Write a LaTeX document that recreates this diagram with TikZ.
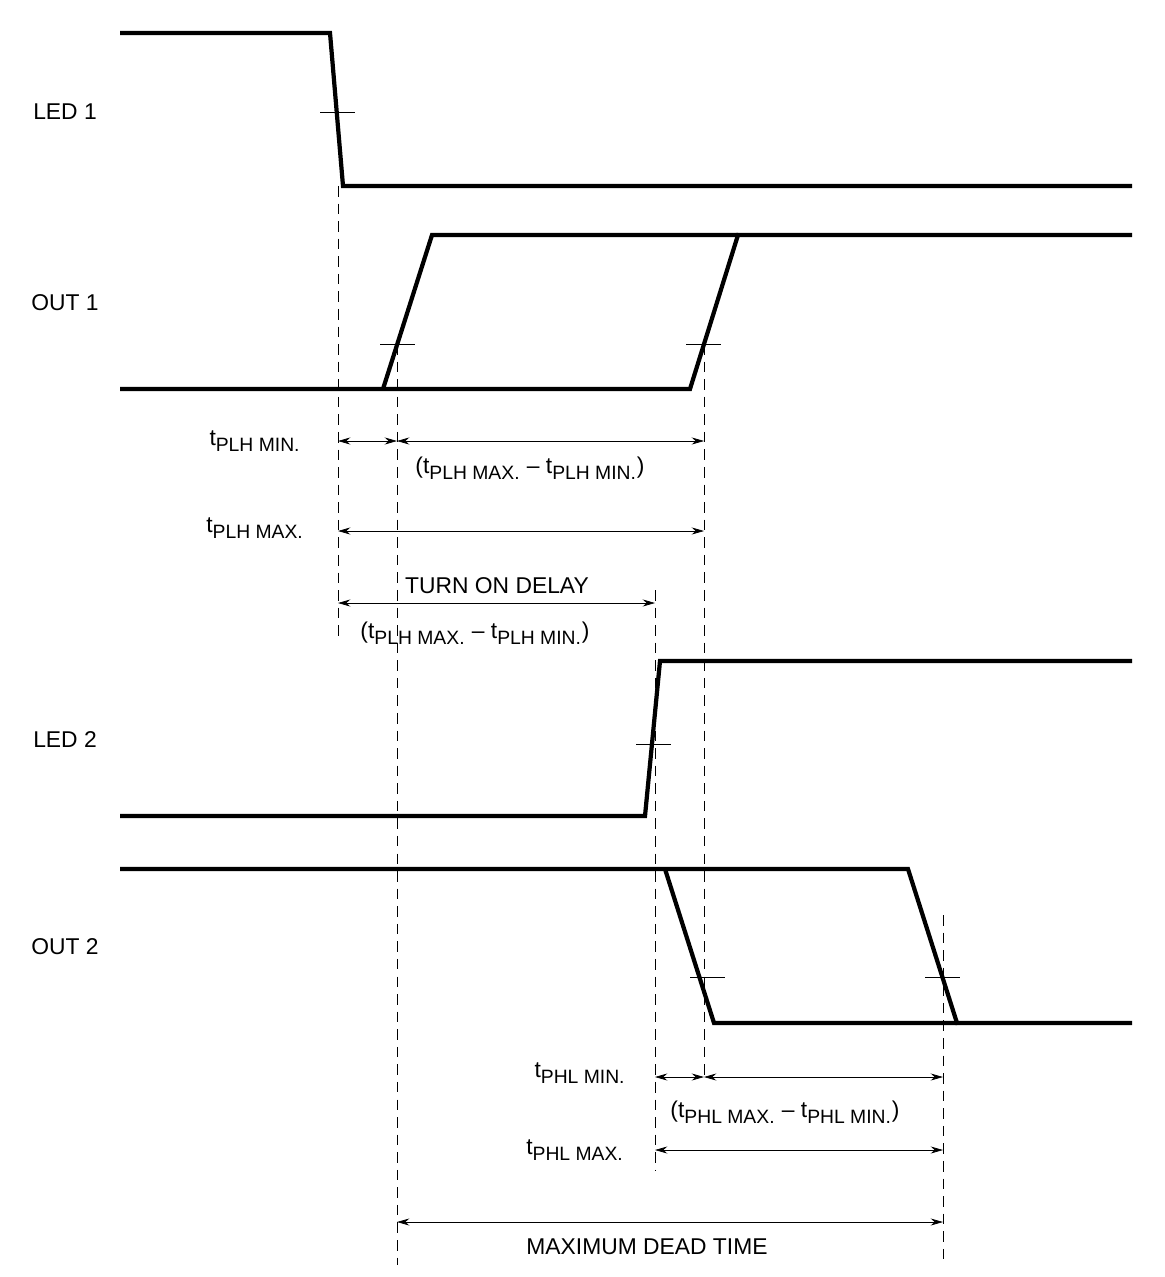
\documentclass[tikz,border=0pt]{standalone}
\usepackage{fontspec}
\setmainfont{Liberation Sans}
\usetikzlibrary{arrows.meta}
\tikzset{
  wave/.style={line width=2.4pt, line join=miter},
  guide/.style={thin, dash pattern=on 6pt off 4pt},
  tick/.style={thin},
  span/.style={thin, {Stealth[length=7pt,width=4pt]}-{Stealth[length=7pt,width=4pt]}},
  lbl/.style={font=\fontsize{13}{15}\selectfont, inner sep=1pt}
}
\newcommand{\tsub}[2]{t\textsubscript{\fontsize{11}{12}\selectfont #1 #2}}
\begin{document}
\begin{tikzpicture}[x=0.02cm, y=-0.02cm]
	\useasboundingbox (0,0) rectangle (1164,1277);
	% signal names
	\node[lbl] (led1) at (65,112) {LED 1};
	\node[lbl] (out1) at (65,303) {OUT 1};
	\node[lbl] (led2) at (65,740) {LED 2};
	\node[lbl] (out2) at (65,947) {OUT 2};
	% waveforms
	\draw[wave] (120,33) -- (330,33) -- (343,186) -- (1132,186);
	\draw[wave] (120,389) -- (690,389) -- (738,235) -- (1132,235);
	\draw[wave] (383,389) -- (432,235) -- (738,235);
	\draw[wave] (120,816) -- (645,816) -- (660,661) -- (1132,661);
	\draw[wave] (120,869) -- (908,869) -- (957,1023) -- (1132,1023);
	\draw[wave] (665,869) -- (714,1023) -- (957,1023);
	% crossing ticks
	\foreach \x/\y in {320/112, 380/344, 686/344, 636/744, 690/977, 925/977}{
		\draw[tick] (\x,\y) -- ++(35,0);
		};
	% dashed guides
	\draw[guide] (338,186) -- (338,640);
	\draw[guide] (397,344) -- (397,1265);
	\draw[guide] (704,344) -- (704,1080);
	\draw[guide] (655,590) -- (655,1170);
	\draw[guide] (943,915) -- (943,1265);
	% spans
	\coordinate (a1) at (338,441); \coordinate (b1) at (397,441); \coordinate (c1) at (704,441);
	\draw[span] (a1) -- (b1);
	\draw[span] (b1) -- (c1);
	\node[lbl] (plhmin) at (255,441) {\tsub{PLH}{MIN.}};
	\node[lbl] (plhdiff) at (530,468) {(\tsub{PLH}{MAX.} – \tsub{PLH}{MIN.})};
	\coordinate (a2) at (338,531); \coordinate (c2) at (704,531);
	\draw[span] (a2) -- (c2);
	\node[lbl] (plhmax) at (255,528) {\tsub{PLH}{MAX.}};
	\coordinate (a3) at (338,603); \coordinate (d3) at (655,603);
	\draw[span] (a3) -- (d3);
	\node[lbl] (ton) at (497,586) {TURN ON DELAY};
	\node[lbl] (tondiff) at (475,633) {(\tsub{PLH}{MAX.} – \tsub{PLH}{MIN.})};
	\coordinate (d4) at (655,1077); \coordinate (c4) at (704,1077); \coordinate (e4) at (943,1077);
	\draw[span] (d4) -- (c4);
	\draw[span] (c4) -- (e4);
	\node[lbl] (phlmin) at (580,1073) {\tsub{PHL}{MIN.}};
	\node[lbl] (phldiff) at (785,1112) {(\tsub{PHL}{MAX.} – \tsub{PHL}{MIN.})};
	\coordinate (d5) at (655,1150); \coordinate (e5) at (943,1150);
	\draw[span] (d5) -- (e5);
	\node[lbl] (phlmax) at (575,1150) {\tsub{PHL}{MAX.}};
	\coordinate (b6) at (397,1222); \coordinate (e6) at (943,1222);
	\draw[span] (b6) -- (e6);
	\node[lbl] (dead) at (647,1247) {MAXIMUM DEAD TIME};
\end{tikzpicture}
\end{document}
